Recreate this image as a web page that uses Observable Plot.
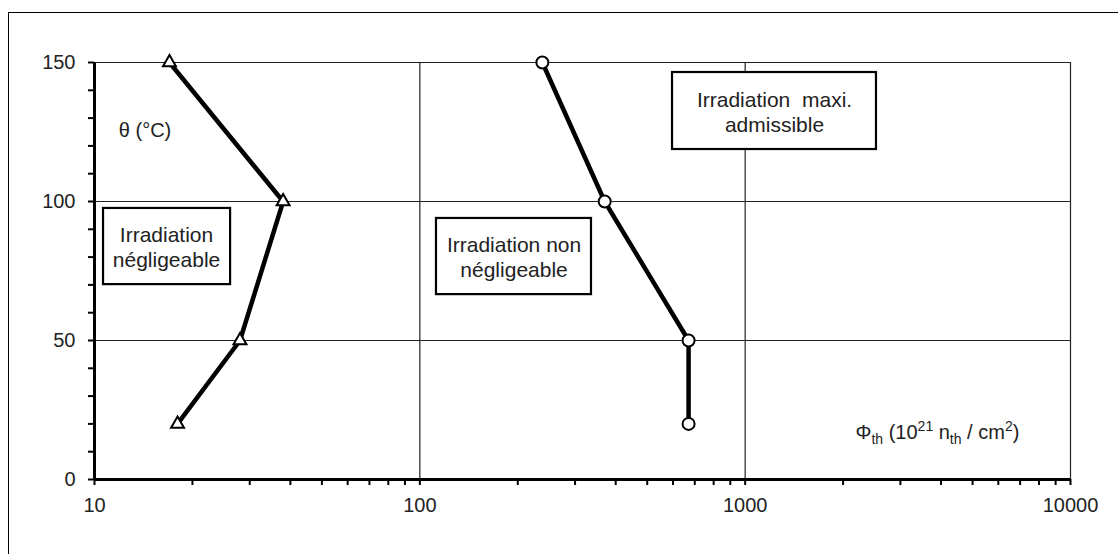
<!DOCTYPE html>
<html>
<head>
<meta charset="utf-8">
<script src="https://cdn.jsdelivr.net/npm/d3@7"></script>
<script src="https://cdn.jsdelivr.net/npm/@observablehq/plot@0.6"></script>
<style>
  html, body { margin: 0; padding: 0; background: #fff; overflow: hidden; }
  #wrap { position: relative; width: 1118px; height: 554px; overflow: hidden; }
  #frame { position: absolute; left: 8px; top: 12px; width: 1200px; height: 700px; border: 1.5px solid #000; }
  #chart { position: absolute; left: 0; top: 0; }
</style>
</head>
<body>
<div id="wrap"><div id="frame"></div><div id="chart"></div></div>
<script>
// Data
const temperature = [150, 100, 50, 20];              // θ (°C)
const fluenceNegligible = [17, 38, 28, 18];           // triangle series
const fluenceMaxAdmissible = [238, 370, 670, 670];    // circle series
const xTicks = [10,20,30,40,50,60,70,80,90,100,200,300,400,500,600,700,800,900,1000,2000,3000,4000,5000,6000,7000,8000,9000,10000];
const xTickLabels = [10, 100, 1000, 10000];
const yTicks = [0,10,20,30,40,50,60,70,80,90,100,110,120,130,140,150];
const yTickLabels = [0, 50, 100, 150];

// Annotations (data coordinates)
const boxTexts = ["Irradiation\nnégligeable", "Irradiation non\nnégligeable", "Irradiation  maxi.\nadmissible"];
const boxX1 = [10.66, 112.5, 598];
const boxX2 = [26.2, 337, 2533];
const boxY1 = [70.1, 66.5, 118.7];
const boxY2 = [97.5, 93.9, 146.4];
const boxTextX = [16.65, 194.8, 1231];
const boxTextY = [83.8, 80.2, 132.4];

const seriesA = temperature.map((t, i) => ({t, f: fluenceNegligible[i]}));
const seriesB = temperature.map((t, i) => ({t, f: fluenceMaxAdmissible[i]}));
const boxes = boxTexts.map((s, i) => ({s, x1: boxX1[i], x2: boxX2[i], y1: boxY1[i], y2: boxY2[i], tx: boxTextX[i], ty: boxTextY[i]}));

const plot = Plot.plot({
  width: 1118,
  height: 554,
  marginLeft: 94,
  marginRight: 48,
  marginTop: 62,
  marginBottom: 75,
  style: {fontFamily: "'Liberation Sans', Arial, sans-serif", fontSize: "20px", color: "#222", background: "transparent"},
  x: {type: "log", domain: [10, 10000]},
  y: {domain: [0, 150]},
  marks: [
    Plot.ruleX([100, 1000, 10000], {stroke: "#222", strokeWidth: 1.2}),
    Plot.ruleY([50, 100, 150], {stroke: "#222", strokeWidth: 1.2}),
    Plot.rect(boxes, {x1: "x1", x2: "x2", y1: "y1", y2: "y2", fill: "white", stroke: "#000", strokeWidth: 2.2}),
    Plot.text(boxes, {x: "tx", y: "ty", text: "s", lineHeight: 1.2, fontSize: 21, fill: "#222"}),
    Plot.axisY({ticks: yTicks, tickSize: 6, tickPadding: 13, label: null, tickFormat: d => yTickLabels.includes(d) ? String(d) : "", fontSize: 20, fill: "#222", stroke: "#000", strokeWidth: 2}),
    Plot.axisX({ticks: xTicks, tickSize: 6, tickPadding: 12, label: null, tickFormat: d => xTickLabels.includes(d) ? String(d) : "", fontSize: 20, fill: "#222", stroke: "#000", strokeWidth: 2}),
    Plot.ruleX([10], {stroke: "#000", strokeWidth: 3}),
    Plot.ruleY([0], {stroke: "#000", strokeWidth: 3}),
    Plot.line(seriesA, {x: "f", y: "t", stroke: "#000", strokeWidth: 4.5}),
    Plot.line(seriesB, {x: "f", y: "t", stroke: "#000", strokeWidth: 4.5}),
    Plot.dot(seriesA, {x: "f", y: "t", symbol: "triangle", r: 4.8, fill: "white", stroke: "#000", strokeWidth: 2}),
    Plot.dot(seriesB, {x: "f", y: "t", symbol: "circle", r: 6, fill: "white", stroke: "#000", strokeWidth: 2}),
    Plot.text(["θ (°C)"], {x: 14.3, y: 125.5, text: d => d, fontSize: 20, fill: "#222"}),
    Plot.text(["Φth (1021 nth / cm2)"], {x: 2183, y: 16.9, text: d => d, textAnchor: "start", fontSize: 20, fill: "#222"})
  ]
});

document.getElementById("chart").appendChild(plot);

// Rich formatting of the flux axis label (subscripts / superscripts)
d3.select(plot).selectAll("text").each(function() {
  if (this.textContent.startsWith("Φth")) {
    const t = d3.select(this);
    t.text("");
    const parts = [
      ["Φ", 0, null], ["th", 5, 14], [" (10", -5, null], ["21", -8, 14], [" n", 8, null],
      ["th", 5, 14], [" / cm", -5, null], ["2", -8, 14], [")", 8, null]
    ];
    for (const [s, dy, fs] of parts) {
      const sp = t.append("tspan").text(s).attr("dy", dy);
      if (fs) sp.attr("font-size", fs);
    }
  }
});
</script>
</body>
</html>
